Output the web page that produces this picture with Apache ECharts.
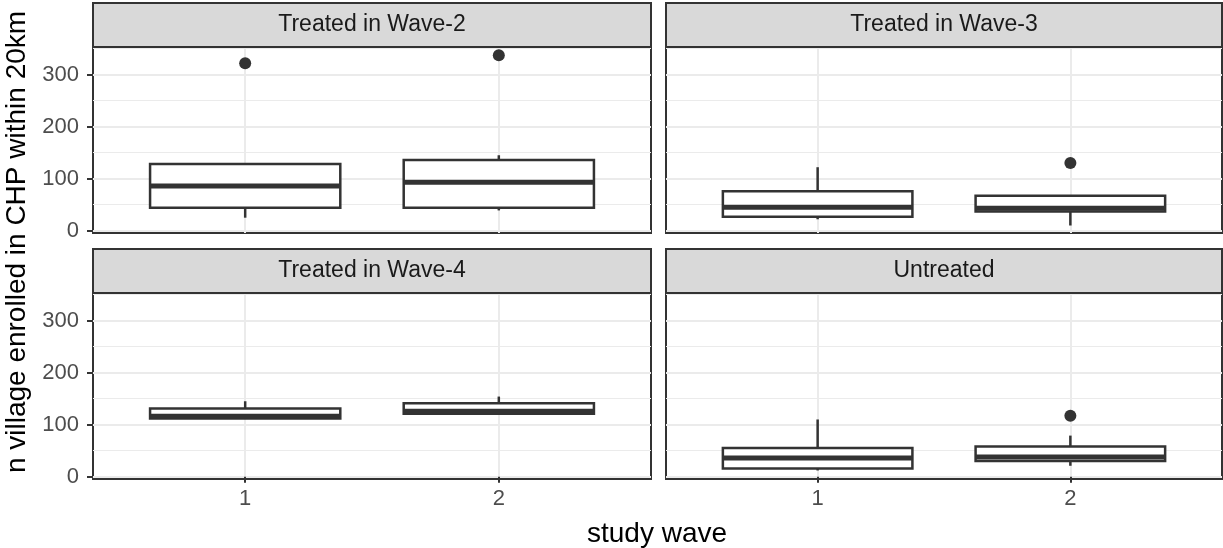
<!DOCTYPE html>
<html>
<head>
<meta charset="utf-8">
<script src="https://cdn.jsdelivr.net/npm/echarts@6/dist/echarts.min.js"></script>
<style>
  html, body { margin: 0; padding: 0; background: #ffffff; }
  #chart { width: 1223px; height: 548px; }
</style>
</head>
<body>
<div id="chart"></div>
<script>
// ---- data ----
const panelNames = ['Treated in Wave-2', 'Treated in Wave-3', 'Treated in Wave-4', 'Untreated'];
const waveLabels = ['1', '2'];

// box statistics per study wave: [lower whisker, Q1, median, Q3, upper whisker]
const statsWave2 = [[25, 44, 86, 128, 130], [39, 44, 93, 136, 145]];
const statsWave3 = [[22, 27, 45, 76, 122], [10, 37, 43, 67, 67]];
const statsWave4 = [[112, 112, 116, 131, 145], [120, 121, 126, 141, 154]];
const statsUntreated = [[12, 16, 36, 55, 110], [21, 30, 38, 58, 79]];

// outlying villages: [study wave, value]
const outliersWave2 = [[1, 322], [2, 337]];
const outliersWave3 = [[2, 130]];
const outliersWave4 = [];
const outliersUntreated = [[2, 117]];

const yMajorTicks = [0, 100, 200, 300];
const yMinorTicks = [50, 150, 250, 350];

const panelStats = [statsWave2, statsWave3, statsWave4, statsUntreated];
const panelOutliers = [outliersWave2, outliersWave3, outliersWave4, outliersUntreated];

// ---- layout ----
const FONT = "'Liberation Sans', Arial, Helvetica, sans-serif";
const INK = '#333333';
const GRID_COL = '#EBEBEB';
const Y_MIN = -4.4, Y_MAX = 353;
const X_MIN = 0.4, X_MAX = 2.6;
const BOX_WIDTH = 0.75;

const colX = [93, 666];
const colW = [558, 556];
const stripTop = [3, 249];
const stripH = 44;
const plotH = 186;

const panelRects = panelNames.map((name, i) => {
  const c = i % 2, r = Math.floor(i / 2);
  return { left: colX[c], width: colW[c], stripTop: stripTop[r], top: stripTop[r] + stripH, height: plotH, col: c, row: r };
});

const grids = panelRects.map(p => ({
  left: p.left, top: p.top, width: p.width, height: p.height,
  show: true, borderColor: INK, borderWidth: 2, backgroundColor: '#ffffff',
  containLabel: false
}));

const xAxes = panelRects.map((p, i) => ({
  type: 'value', gridIndex: i, min: X_MIN, max: X_MAX,
  axisLine: { show: false },
  axisTick: { show: p.row === 1, length: 6, lineStyle: { color: INK, width: 2 }, customValues: [1, 2] },
  axisLabel: {
    show: p.row === 1, customValues: [1, 2], margin: 9,
    color: '#4D4D4D', fontSize: 22, fontFamily: FONT,
    formatter: v => waveLabels[Math.round(v) - 1]
  },
  splitLine: { show: true, lineStyle: { color: GRID_COL, width: 2 } }
}));

const yAxesMajor = panelRects.map((p, i) => ({
  type: 'value', gridIndex: i, min: Y_MIN, max: Y_MAX, position: 'left',
  axisLine: { show: false },
  axisTick: { show: p.col === 0, length: 6, lineStyle: { color: INK, width: 2 }, customValues: yMajorTicks },
  axisLabel: {
    show: p.col === 0, customValues: yMajorTicks, margin: 14,
    color: '#4D4D4D', fontSize: 22, fontFamily: FONT
  },
  splitLine: { show: true, lineStyle: { color: GRID_COL, width: 2 } }
}));

const yAxesMinor = panelRects.map((p, i) => ({
  type: 'value', gridIndex: i, min: Y_MIN, max: Y_MAX, position: 'left',
  axisLine: { show: false },
  axisTick: { show: false, customValues: yMinorTicks },
  axisLabel: { show: false, customValues: yMinorTicks },
  splitLine: { show: true, lineStyle: { color: GRID_COL, width: 1 } }
}));

// box-and-whisker drawn with the axis scales
function renderBox(params, api) {
  const x = api.value(0);
  const lo = api.coord([x, api.value(1)]);
  const q1 = api.coord([x, api.value(2)]);
  const med = api.coord([x, api.value(3)]);
  const q3 = api.coord([x, api.value(4)]);
  const hi = api.coord([x, api.value(5)]);
  const half = api.size([BOX_WIDTH, 0])[0] / 2;
  const cx = q1[0];
  const line = { stroke: INK, lineWidth: 2.5 };
  return {
    type: 'group',
    children: [
      { type: 'line', shape: { x1: cx, y1: q3[1], x2: cx, y2: hi[1] }, style: line },
      { type: 'line', shape: { x1: cx, y1: q1[1], x2: cx, y2: lo[1] }, style: line },
      { type: 'rect', shape: { x: cx - half, y: q3[1], width: half * 2, height: q1[1] - q3[1] },
        style: { fill: '#ffffff', stroke: INK, lineWidth: 2.5 } },
      { type: 'line', shape: { x1: cx - half, y1: med[1], x2: cx + half, y2: med[1] },
        style: { stroke: INK, lineWidth: 5 } }
    ]
  };
}

const series = [];
panelStats.forEach((stats, i) => {
  series.push({
    type: 'custom', xAxisIndex: i, yAxisIndex: i,
    renderItem: renderBox,
    encode: { x: 0, y: [1, 2, 3, 4, 5] },
    data: stats.map((s, k) => [k + 1].concat(s)),
    silent: true, z: 3
  });
  series.push({
    type: 'scatter', xAxisIndex: i, yAxisIndex: i,
    data: panelOutliers[i],
    symbol: 'circle', symbolSize: 12,
    itemStyle: { color: INK, opacity: 1 },
    silent: true, z: 4
  });
});

// facet strips and shared axis titles
const graphics = [];
panelRects.forEach((p, i) => {
  graphics.push({
    type: 'rect', silent: true, z: 10,
    shape: { x: p.left, y: p.stripTop, width: p.width, height: stripH },
    style: { fill: '#D9D9D9', stroke: INK, lineWidth: 2 }
  });
  graphics.push({
    type: 'text', silent: true, z: 11,
    x: p.left + p.width / 2, y: p.stripTop + stripH / 2,
    style: { text: panelNames[i], fill: '#1A1A1A', font: '23px ' + FONT, textAlign: 'center', textVerticalAlign: 'middle' }
  });
});
graphics.push({
  type: 'text', silent: true, z: 11, x: 657, y: 534,
  style: { text: 'study wave', fill: '#000000', font: '28px ' + FONT, textAlign: 'center', textVerticalAlign: 'middle' }
});
graphics.push({
  type: 'text', silent: true, z: 11, x: 17, y: 242, rotation: Math.PI / 2,
  style: { text: 'n village enrolled in CHP within 20km', fill: '#000000', font: '28px ' + FONT, textAlign: 'center', textVerticalAlign: 'middle' }
});

const chart = echarts.init(document.getElementById('chart'), null, { renderer: 'canvas' });
chart.setOption({
  animation: false,
  backgroundColor: '#ffffff',
  grid: grids,
  xAxis: xAxes,
  yAxis: yAxesMajor.concat(yAxesMinor),
  series: series,
  graphic: graphics
});
</script>
</body>
</html>
